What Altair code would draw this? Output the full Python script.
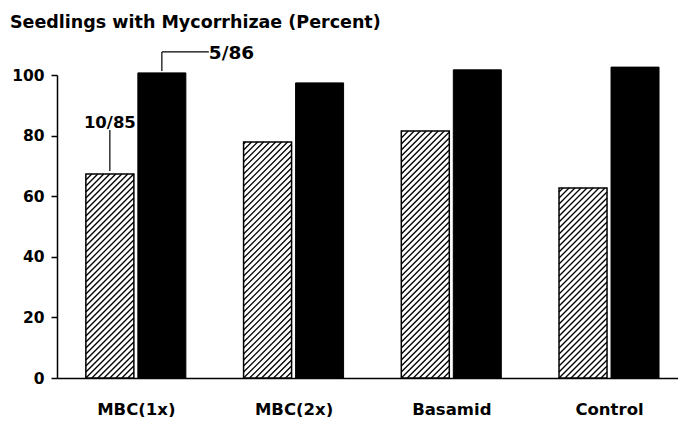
import altair as alt
import pandas as pd

# ---- data ----
categories = ["MBC(1x)", "MBC(2x)", "Basamid", "Control"]
hatched_values = [67.3, 77.9, 81.5, 62.7]
solid_values = [100.7, 97.4, 101.7, 102.6]
y_ticks = [0, 20, 40, 60, 80, 100]
title_text = "Seedlings with Mycorrhizae (Percent)"
ann_labels = ["10/85", "5/86"]
ann_groups = [0, 0]
ann_series = ["hatched", "solid"]

# ---- layout / style constants ----
PX = 157.72                      # pixels per x unit (group spacing)
W, H = 621, 303
XDOM = [-0.5, -0.5 + W / PX]
PY = H / 100.0                   # pixels per y unit
FONT = "DejaVu Sans"
BARW = 48
HATCH_STEP = 6

rows = []
for i, c in enumerate(categories):
    rows.append({"idx": i, "cat": c, "series": "hatched", "value": hatched_values[i]})
    rows.append({"idx": i, "cat": c, "series": "solid", "value": solid_values[i]})
df = pd.DataFrame(rows)

ann_df = pd.DataFrame({
    "label": ann_labels,
    "idx": ann_groups,
    "series": ann_series,
})
ann_df["value"] = [
    (hatched_values if s == "hatched" else solid_values)[g]
    for g, s in zip(ann_groups, ann_series)
]

label_expr = "[" + ",".join("'" + c + "'" for c in categories) + "][datum.value]"

xscale = alt.Scale(domain=XDOM, nice=False, zero=False)
yscale = alt.Scale(domain=[0, 100], nice=False)

x_axis = alt.Axis(values=list(range(len(categories))), labelExpr=label_expr,
                  ticks=False, grid=False, title=None, labelFont=FONT,
                  labelFontWeight="bold", labelFontSize=16.5, labelColor="black",
                  labelPadding=23, domainColor="black", domainWidth=1.5)
y_axis = alt.Axis(values=y_ticks, grid=False, title=None, labelFont=FONT,
                  labelFontWeight="bold", labelFontSize=15.5, labelColor="black",
                  tickSize=6, tickColor="black", tickWidth=1.5,
                  domainColor="black", domainWidth=1.5, labelPadding=7)

base = alt.Chart(df).transform_calculate(
    left=f"datum.idx + (datum.series == 'hatched' ? -50 : 2) / {PX}",
    right=f"datum.idx + (datum.series == 'hatched' ? -2 : 50) / {PX}",
    zero="0",
)

hatched_bars = base.transform_filter("datum.series == 'hatched'").mark_bar(
    fill="white", stroke="black", strokeWidth=1.5
).encode(
    x=alt.X("left:Q", scale=xscale, axis=x_axis),
    x2="right:Q",
    y=alt.Y("value:Q", scale=yscale, axis=y_axis),
    y2="zero:Q",
)

hatch = base.transform_filter("datum.series == 'hatched'").transform_calculate(
    h=f"datum.value * {PY}",
).transform_calculate(
    cs=f"sequence(-{BARW}, datum.h, {HATCH_STEP})"
).transform_flatten(["cs"]).transform_calculate(
    u0="max(0, -datum.cs)",
    u1=f"min({BARW}, datum.h - datum.cs)",
).transform_filter("datum.u0 < datum.u1").transform_calculate(
    hx=f"datum.left + datum.u0 / {PX}",
    hx2=f"datum.left + datum.u1 / {PX}",
    hy=f"(datum.u0 + datum.cs) / {PY}",
    hy2=f"(datum.u1 + datum.cs) / {PY}",
).mark_rule(color="black", strokeWidth=1.3).encode(
    x=alt.X("hx:Q", scale=xscale, axis=x_axis),
    x2="hx2:Q",
    y=alt.Y("hy:Q", scale=yscale, axis=y_axis),
    y2="hy2:Q",
)

solid_bars = base.transform_filter("datum.series == 'solid'").mark_bar(
    fill="black", stroke="black", strokeWidth=1
).encode(
    x=alt.X("left:Q", scale=xscale, axis=x_axis),
    x2="right:Q",
    y=alt.Y("value:Q", scale=yscale, axis=y_axis),
    y2="zero:Q",
)

# annotations
ann = alt.Chart(ann_df).transform_calculate(
    cx=f"datum.idx + (datum.series == 'hatched' ? -26 : 26) / {PX}",
)

ann_h = ann.transform_filter("datum.series == 'hatched'")
ann_s = ann.transform_filter("datum.series == 'solid'")

h_line = ann_h.transform_calculate(
    ya=f"datum.value + 3 / {PY}",
    yb=f"datum.value + 44 / {PY}",
).mark_rule(color="black", strokeWidth=1.2).encode(
    x=alt.X("cx:Q", scale=xscale, axis=x_axis),
    y=alt.Y("ya:Q", scale=yscale, axis=y_axis),
    y2="yb:Q",
)
h_text = ann_h.transform_calculate(
    yt=f"datum.value + 51 / {PY}",
).mark_text(font=FONT, fontWeight="bold", fontSize=16.5, color="black",
            baseline="middle", align="center").encode(
    x=alt.X("cx:Q", scale=xscale, axis=x_axis),
    y=alt.Y("yt:Q", scale=yscale, axis=y_axis),
    text="label:N",
)

s_vline = ann_s.transform_calculate(
    ya=f"datum.value + 2 / {PY}",
    yb=f"datum.value + 21 / {PY}",
).mark_rule(color="black", strokeWidth=1.2).encode(
    x=alt.X("cx:Q", scale=xscale, axis=x_axis),
    y=alt.Y("ya:Q", scale=yscale, axis=y_axis),
    y2="yb:Q",
)
s_hline = ann_s.transform_calculate(
    yb=f"datum.value + 21 / {PY}",
    cx2=f"datum.cx + 47 / {PX}",
).mark_rule(color="black", strokeWidth=1.2).encode(
    x=alt.X("cx:Q", scale=xscale, axis=x_axis),
    x2="cx2:Q",
    y=alt.Y("yb:Q", scale=yscale, axis=y_axis),
)
s_text = ann_s.transform_calculate(
    yb=f"datum.value + 20 / {PY}",
    tx=f"datum.cx + 47 / {PX}",
).mark_text(font=FONT, fontWeight="bold", fontSize=18.5, color="black",
            baseline="middle", align="left").encode(
    x=alt.X("tx:Q", scale=xscale, axis=x_axis),
    y=alt.Y("yb:Q", scale=yscale, axis=y_axis),
    text="label:N",
)

chart = alt.layer(
    hatched_bars, hatch, solid_bars, h_line, h_text, s_vline, s_hline, s_text
).properties(
    width=W, height=H,
    title=alt.TitleParams(title_text, anchor="start", font=FONT, fontWeight="bold",
                          fontSize=17.5, color="black", dx=-47, dy=18, frame="group",
                          offset=30),
    padding={"left": 49, "top": 67, "right": 0, "bottom": 39},
    autosize=alt.AutoSizeParams(type="none"),
    background="white",
).configure_view(stroke=None)

chart.save("out.html", embed_options={"renderer": "svg", "actions": False})
